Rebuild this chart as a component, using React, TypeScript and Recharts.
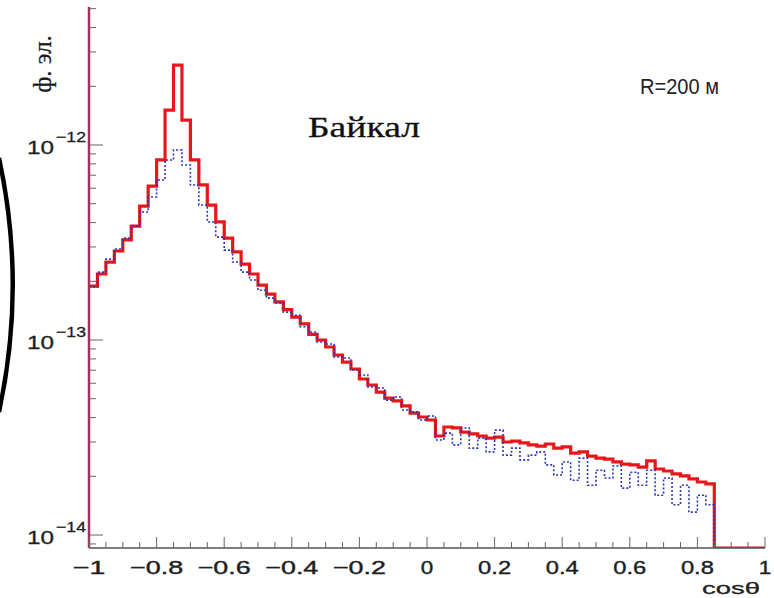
import React from 'react';
import { LineChart, Line, XAxis, YAxis } from 'recharts';

// Histogram bins: left edges start at -1, width 0.025 (80 bins up to cos = 1)
const BIN_START = -1;
const BIN_WIDTH = 0.025;

// Red (solid) histogram, flux per bin
const redFlux = [
  1.89e-13, 2.18e-13, 2.51e-13, 2.86e-13, 3.26e-13, 3.84e-13, 4.86e-13, 6.16e-13, 8.38e-13, 1.51e-12,
  2.57e-12, 1.34e-12, 8.38e-13, 6.24e-13, 4.92e-13, 4.03e-13, 3.33e-13, 2.83e-13, 2.45e-13, 2.18e-13,
  1.91e-13, 1.72e-13, 1.57e-13, 1.43e-13, 1.31e-13, 1.21e-13, 1.07e-13, 1.0e-13, 9.21e-14, 8.38e-14,
  7.71e-14, 7.1e-14, 6.31e-14, 5.88e-14, 5.41e-14, 5.04e-14, 4.87e-14, 4.59e-14, 4.22e-14, 4.03e-14,
  3.89e-14, 3.22e-14, 3.58e-14, 3.54e-14, 3.37e-14, 3.3e-14, 3.22e-14, 3.14e-14, 3.18e-14, 3.0e-14,
  3.03e-14, 2.97e-14, 2.9e-14, 2.86e-14, 2.93e-14, 2.79e-14, 2.83e-14, 2.63e-14, 2.67e-14, 2.54e-14,
  2.48e-14, 2.45e-14, 2.37e-14, 2.31e-14, 2.29e-14, 2.23e-14, 2.4e-14, 2.18e-14, 2.13e-14, 2.06e-14,
  2.01e-14, 1.94e-14, 1.87e-14, 1.83e-14, 0, 0, 0, 0, 0, 0,
];

// Blue (dotted) histogram, flux per bin
const blueFlux = [
  1.87e-13, 2.23e-13, 2.6e-13, 2.93e-13, 3.33e-13, 3.84e-13, 4.53e-13, 5.41e-13, 6.62e-13, 8.38e-13,
  9.42e-13, 7.89e-13, 6.24e-13, 4.92e-13, 4.03e-13, 3.37e-13, 2.89e-13, 2.51e-13, 2.23e-13, 2.03e-13,
  1.8e-13, 1.64e-13, 1.55e-13, 1.39e-13, 1.34e-13, 1.17e-13, 1.1e-13, 9.77e-14, 9.54e-14, 8.18e-14,
  8.09e-14, 7.02e-14, 6.62e-14, 5.74e-14, 5.67e-14, 4.92e-14, 5.1e-14, 4.38e-14, 4.28e-14, 3.89e-14,
  4.08e-14, 3.07e-14, 3.33e-14, 2.9e-14, 3.54e-14, 2.79e-14, 3.14e-14, 2.67e-14, 3.45e-14, 2.57e-14,
  2.79e-14, 2.43e-14, 2.57e-14, 2.67e-14, 2.29e-14, 2.03e-14, 2.37e-14, 1.91e-14, 2.48e-14, 1.8e-14,
  2.15e-14, 1.96e-14, 2.26e-14, 1.74e-14, 2.1e-14, 1.8e-14, 2.15e-14, 1.6e-14, 1.96e-14, 1.43e-14,
  1.8e-14, 1.31e-14, 1.6e-14, 1.43e-14, 0, 0, 0, 0, 0, 0,
];

// Axis ranges
const X_DOMAIN = [-1, 1];
const Y_MIN = 8.58e-15;
const Y_MAX = 5.1e-12;

// Tick values: x every 0.05 (labels every 0.2), y log decades with minor ticks
const xTicks = Array.from({ length: 41 }, (_, i) => (i - 20) / 20);
const yDecades = [-15, -14, -13, -12];
const yMultipliers = [1, 2, 3, 4, 5, 6, 7, 8, 9];
const yTicks: number[] = [];
yDecades.forEach((e) =>
  yMultipliers.forEach((m) => {
    const v = m * Math.pow(10, e);
    if (v >= Y_MIN && v <= Y_MAX) yTicks.push(v);
  })
);

const textLabels = {
  title: 'Байкал',
  radius: 'R=200 м',
  yTitle: 'ф. эл.',
  xTitle: 'cosθ',
};

// Build the step table (bin left edges + closing edge at 1)
const FLOOR = Y_MIN;
const data = redFlux.map((r, i) => ({
  x: BIN_START + i * BIN_WIDTH,
  red: r > 0 ? r : FLOOR,
  blue: blueFlux[i] > 0 ? blueFlux[i] : FLOOR,
}));
data.push({ x: 1, red: data[data.length - 1].red, blue: data[data.length - 1].blue });

const MAROON = '#a3305e';
const LABEL_FILL = '#1e1e1e';
const SANS = '"Liberation Sans", Arial, sans-serif';
const SERIF = '"Liberation Serif", "Times New Roman", serif';

const charW = (c: string) => (c === '.' ? 8 : c === '−' ? 20 : 12.5);
const fmtX = (v: number) => {
  const s = Number.isInteger(v) ? String(v) : v.toFixed(1);
  return s.replace('-', '−');
};

const XTick = (props: any) => {
  const { x, y, payload } = props;
  const v = payload.value as number;
  const i = Math.round(v * 20);
  const major = i % 4 === 0;
  const label = fmtX(Math.round(v * 10) / 10);
  const len = label.split('').reduce((a, c) => a + charW(c), 0);
  return (
    <g>
      <line x1={x} x2={x} y1={y} y2={y - (major ? 11 : 6)} stroke="#666" strokeWidth={1} />
      {major && (
        <text
          x={x}
          y={y + 26}
          textAnchor="middle"
          fontFamily={SANS}
          fontSize={19}
          fill={LABEL_FILL}
          stroke={LABEL_FILL}
          strokeWidth={0.4}
          textLength={len}
          lengthAdjust="spacingAndGlyphs"
        >
          {label}
        </text>
      )}
    </g>
  );
};

const YTick = (props: any) => {
  const { x, y, payload } = props;
  const v = payload.value as number;
  const lg = Math.log10(v);
  const exp = Math.round(lg);
  const major = Math.abs(lg - exp) < 1e-6;
  return (
    <g>
      <line x1={x} x2={x + (major ? 14 : 7)} y1={y} y2={y} stroke="#666" strokeWidth={1} />
      {major && (
        <g>
          <text
            x={x - 62}
            y={y + 9}
            fontFamily={SANS}
            fontSize={19}
            fill={LABEL_FILL}
            stroke={LABEL_FILL}
            strokeWidth={0.3}
            textLength={27}
            lengthAdjust="spacingAndGlyphs"
          >
            10
          </text>
          <text
            x={x - 33}
            y={y - 3}
            fontFamily={SANS}
            fontSize={15}
            fill={LABEL_FILL}
            stroke={LABEL_FILL}
            strokeWidth={0.3}
            textLength={30}
            lengthAdjust="spacingAndGlyphs"
          >
            {'−' + String(-exp)}
          </text>
        </g>
      )}
    </g>
  );
};

export default function App() {
  return (
    <div style={{ position: 'absolute', left: 0, top: 0, width: 774, height: 598, background: '#fff' }}>
      <LineChart
        width={774}
        height={598}
        data={data}
        margin={{ top: 7, right: 9, bottom: 20, left: 29 }}
      >
        <XAxis
          dataKey="x"
          type="number"
          domain={X_DOMAIN}
          ticks={xTicks}
          interval={0}
          allowDataOverflow
          tickSize={0}
          tickMargin={0}
          tickLine={false}
          height={30}
          axisLine={{ stroke: '#555', strokeWidth: 1.5 }}
          tick={(p: any) => <XTick {...p} />}
        />
        <XAxis
          xAxisId="top"
          orientation="top"
          type="number"
          domain={X_DOMAIN}
          height={0}
          tick={false}
          tickLine={false}
          axisLine={{ stroke: '#9a9a9a', strokeWidth: 1.5 }}
        />
        <YAxis
          scale="log"
          type="number"
          domain={[Y_MIN, Y_MAX]}
          ticks={yTicks}
          interval={0}
          allowDataOverflow
          width={60}
          tickSize={0}
          tickMargin={0}
          tickLine={false}
          axisLine={{ stroke: MAROON, strokeWidth: 2.5 }}
          tick={(p: any) => <YTick {...p} />}
        />
        <YAxis
          yAxisId="right"
          orientation="right"
          type="number"
          domain={[0, 1]}
          width={0}
          tick={false}
          tickLine={false}
          axisLine={{ stroke: MAROON, strokeWidth: 2 }}
        />
        <Line
          dataKey="red"
          type="stepAfter"
          stroke="#e8161b"
          strokeWidth={3.2}
          dot={false}
          activeDot={false}
          isAnimationActive={false}
        />
        <Line
          dataKey="blue"
          type="stepAfter"
          stroke="#2a36b8"
          strokeWidth={1.6}
          strokeDasharray="2 2"
          dot={false}
          activeDot={false}
          isAnimationActive={false}
        />
      </LineChart>
      <svg
        width={774}
        height={598}
        style={{ position: 'absolute', left: 0, top: 0, pointerEvents: 'none' }}
      >
        <path d="M -1 158 A 600 600 0 0 1 -1 412" fill="none" stroke="#000" strokeWidth={4.5} />
        <text
          x={0}
          y={0}
          transform="translate(51 64) rotate(-90)"
          textAnchor="middle"
          fontFamily={SERIF}
          fontSize={25}
          fill="#1a1a1a"
          stroke="#1a1a1a"
          strokeWidth={0.3}
        >
          {textLabels.yTitle}
        </text>
        <text
          x={308}
          y={137}
          fontFamily={SERIF}
          fontSize={30}
          fill="#111"
          stroke="#111"
          strokeWidth={0.3}
          textLength={112}
          lengthAdjust="spacingAndGlyphs"
        >
          {textLabels.title}
        </text>
        <text
          x={640}
          y={94}
          fontFamily={SANS}
          fontSize={22}
          fill="#222"
          textLength={79}
          lengthAdjust="spacingAndGlyphs"
        >
          {textLabels.radius}
        </text>
        <text
          x={702}
          y={594}
          fontFamily={SANS}
          fontSize={17}
          fill="#222"
          stroke="#222"
          strokeWidth={0.3}
          textLength={58}
          lengthAdjust="spacingAndGlyphs"
        >
          {textLabels.xTitle}
        </text>
      </svg>
    </div>
  );
}
